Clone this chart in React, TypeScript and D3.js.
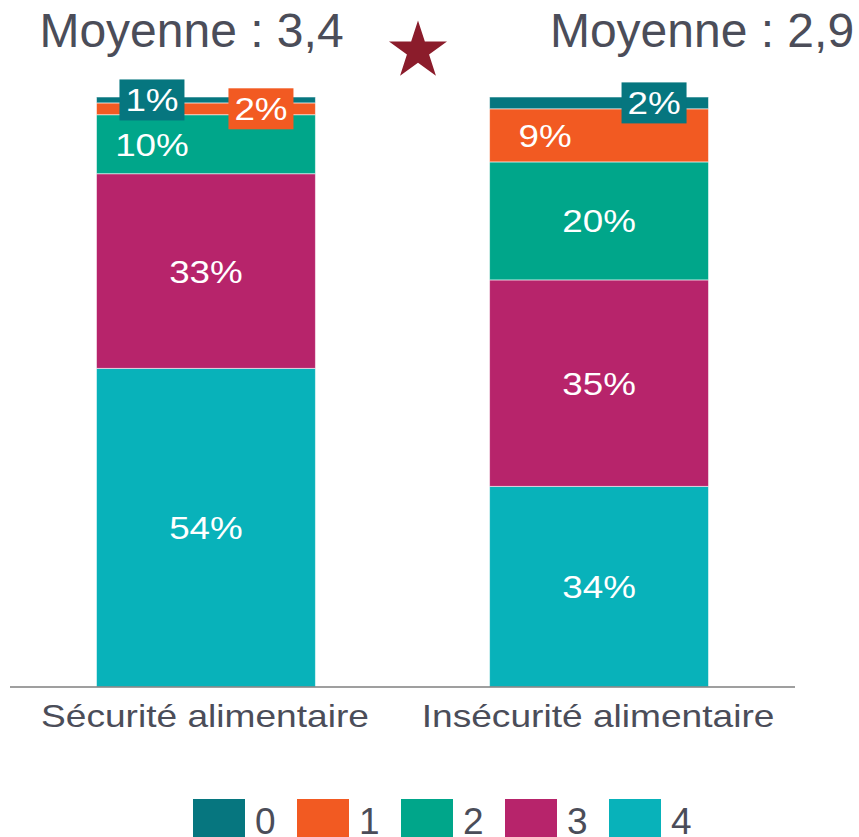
import * as d3 from 'd3';

const categories = ['Sécurité alimentaire', 'Insécurité alimentaire'];
const means = ['3,4', '2,9'];
const levels = ['0', '1', '2', '3', '4'];
const levelColors = ['#06767f', '#f25a22', '#00a68a', '#b7246b', '#08b2ba'];

// share (%) of each level, one value per category
const level0 = [1, 2];
const level1 = [2, 9];
const level2 = [10, 20];
const level3 = [33, 35];
const level4 = [54, 34];

const W = 859;
const H = 837;
const TEXT = '#4b4d59';
const FONT = 'Liberation Sans, Arial, sans-serif';

export default function App() {
  const rows = categories.map((c, i) => ({
    cat: c,
    '0': level0[i],
    '1': level1[i],
    '2': level2[i],
    '3': level3[i],
    '4': level4[i],
  }));

  // bottom to top: 4, 3, 2, 1, 0
  const keys = [...levels].reverse();
  const series = d3.stack<any>().keys(keys)(rows);

  const x = d3.scaleBand().domain(categories).range([10, 795]).paddingInner(0.443).paddingOuter(0.22);
  const y = d3.scaleLinear().domain([0, 100]).range([687, 97]);
  const color = d3.scaleOrdinal<string, string>().domain(levels).range(levelColors);

  const star = d3.symbol().type(d3.symbolStar).size(1044)();

  // small segments get their labels nudged aside (some in a coloured box)
  const nudge = (key: string, ci: number, v: number) => {
    if (v >= 12) return { dx: 0, boxed: false };
    if (v < 5) {
      const right = (key === '1') || (ci === 1);
      return { dx: right ? 55 : -54, boxed: true };
    }
    return { dx: -54, boxed: false };
  };

  return (
    <svg width={W} height={H} style={{ position: 'absolute', left: 0, top: 0 }} fontFamily={FONT}>
      <rect width={W} height={H} fill="#fff" />

      {/* bars */}
      {series.map((s) => (
        <g key={s.key}>
          {s.map((d, i) => (
            <rect
              key={i}
              x={x(categories[i])}
              width={x.bandwidth()}
              y={y(d[1])}
              height={y(d[0]) - y(d[1])}
              fill={color(s.key)}
              stroke="rgba(255,255,255,0.55)"
              strokeWidth={1}
            />
          ))}
        </g>
      ))}

      {/* axis line */}
      <line x1={10} x2={795} y1={y(0)} y2={y(0)} stroke="#7f7f7f" strokeWidth={1.5} />

      {/* value labels, big ones drawn first so boxes sit on top */}
      {[...series].reverse().map((s) =>
        s.map((d, i) => {
          const v = d[1] - d[0];
          const n = nudge(s.key, i, v);
          const cx = (x(categories[i]) ?? 0) + x.bandwidth() / 2 + n.dx;
          const cy = (y(d[0]) + y(d[1])) / 2;
          return (
            <g key={s.key + '-' + i} transform={`translate(${cx},${cy})`}>
              {n.boxed && <rect x={-32.5} y={-20.5} width={65} height={41} fill={color(s.key)} />}
              <text
                transform="scale(1.15,1)"
                textAnchor="middle"
                dy="0.36em"
                fontSize={32}
                fill="#fff"
              >
                {v}%
              </text>
            </g>
          );
        })
      )}

      {/* category labels */}
      {categories.map((c) => (
        <text
          key={c}
          transform={`translate(${(x(c) ?? 0) + x.bandwidth() / 2 - 1},727) scale(1.16,1)`}
          textAnchor="middle"
          fontSize={32}
          fill={TEXT}
        >
          {c}
        </text>
      ))}

      {/* means */}
      {means.map((m, i) => (
        <text key={i} x={i === 0 ? 191.5 : 702} y={47} textAnchor="middle" fontSize={48} fill={TEXT}>
          {'Moyenne : ' + m}
        </text>
      ))}

      {/* significance star */}
      <path d={star ?? ''} transform="translate(418,51)" fill="#8b1c2b" />

      {/* legend */}
      {levels.map((l, i) => (
        <g key={l} transform={`translate(${193 + i * 104},799)`}>
          <rect width={52} height={38} fill={color(l)} />
          <text x={62} y={35} fontSize={37} fill={TEXT}>
            {l}
          </text>
        </g>
      ))}
    </svg>
  );
}
